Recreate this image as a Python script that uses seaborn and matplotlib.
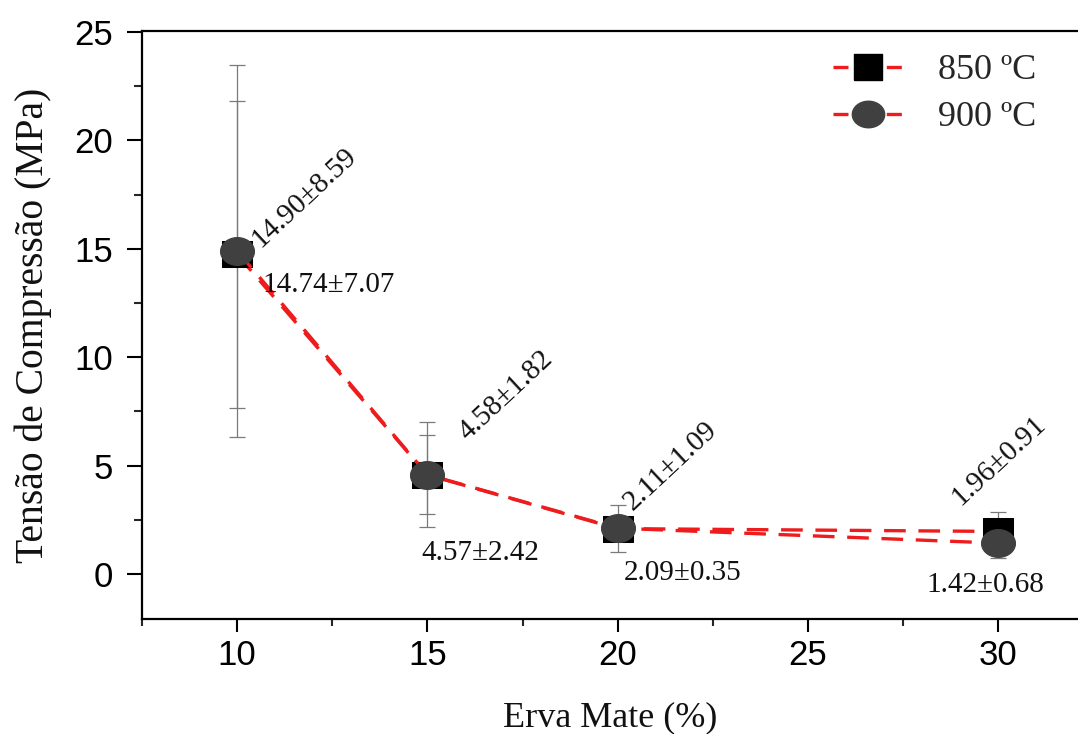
import numpy as np
import pandas as pd
import matplotlib
matplotlib.use("Agg")
import matplotlib.pyplot as plt
from matplotlib.lines import Line2D
from matplotlib.ticker import MultipleLocator
import seaborn as sns

# ---------------- data ----------------
erva = [10, 15, 20, 30]
t850 = [14.74, 4.57, 2.09, 1.96]
e850 = [7.07, 2.42, 0.35, 0.91]
t900 = [14.90, 4.58, 2.11, 1.42]
e900 = [8.59, 1.82, 1.09, 0.68]
series_names = ["850 ºC", "900 ºC"]
x_ticks = [10, 15, 20, 25, 30]
y_ticks = [0, 5, 10, 15, 20, 25]

df = pd.DataFrame({
    "erva": erva + erva,
    "tensao": t850 + t900,
    "erro": e850 + e900,
    "temp": [series_names[0]] * len(erva) + [series_names[1]] * len(erva),
})

# ---------------- style ----------------
sns.set_theme(style="ticks")
plt.rcParams["font.family"] = ["Liberation Sans", "DejaVu Sans"]
SERIF = ["Liberation Serif", "DejaVu Serif", "DejaVu Sans"]

fig = plt.figure(figsize=(10.78, 7.34), dpi=100)
ax = fig.add_axes([142 / 1078, 115 / 734, 936 / 1078, 588 / 734])

square = [(-0.5, -0.45), (0.5, -0.45), (0.5, 0.45), (-0.5, 0.45), (-0.5, -0.45)]
th = np.linspace(0, 2 * np.pi, 60)
ellipse = list(zip(0.5 * np.cos(th), 0.41 * np.sin(th)))

marker_map = {series_names[0]: square, series_names[1]: ellipse}
dash_map = {series_names[0]: (6.5, 3.8), series_names[1]: (6.5, 3.8)}
face = {series_names[0]: "#000000", series_names[1]: "#404040"}
msize = {series_names[0]: 21.5, series_names[1]: 24.5}
red = "#ee1c1c"

# error bars (beneath markers)
for name in series_names:
    sub = df[df["temp"] == name]
    ax.errorbar(sub["erva"], sub["tensao"], yerr=sub["erro"], fmt="none",
                ecolor="#7a7a7a", elinewidth=0.9, capsize=5.6, capthick=0.9,
                zorder=1.5)

sns.lineplot(data=df, x="erva", y="tensao", style="temp", markers=marker_map,
             dashes=dash_map, color=red, lw=2.4, legend=False, ax=ax,
             style_order=series_names, zorder=2)

for line, name in zip(ax.lines[-2:], series_names):
    line.set_markerfacecolor(face[name])
    line.set_markeredgecolor(face[name])
    line.set_markersize(msize[name])

# ---------------- annotations ----------------
# (series index, point index, dx pt, dy pt, rotation, ha, va)
label_layout = [
    (1, 0, 20, -1, 43, "left", "bottom"),
    (1, 1, 32, 21, 43, "left", "bottom"),
    (1, 2, 14, 9, 43, "left", "bottom"),
    (0, 3, -24, 15, 43, "left", "bottom"),
    (0, 0, 18, -22, 0, "left", "center"),
    (0, 1, 38, -56, 0, "center", "center"),
    (0, 2, 47, -32, 0, "center", "center"),
    (1, 3, -9, -30, 0, "center", "center"),
]
vals = [t850, t900]
errs = [e850, e900]
for s, i, dx, dy, rot, ha, va in label_layout:
    txt = f"{vals[s][i]:.2f}±{errs[s][i]:.2f}"
    ax.annotate(txt, xy=(erva[i], vals[s][i]), xytext=(dx, dy),
                textcoords="offset points", rotation=rot,
                rotation_mode="anchor", ha=ha, va=va,
                fontsize=21, family=SERIF, color="#111111", zorder=5)

# ---------------- axes ----------------
ax.set_xlim(7.5, 7.5 + 936 / 38.05)
ax.set_ylim(-2.08, 25.05)
ax.set_xticks(x_ticks)
ax.set_yticks(y_ticks)
ax.xaxis.set_minor_locator(MultipleLocator(2.5))
ax.yaxis.set_minor_locator(MultipleLocator(2.5))

ax.tick_params(axis="both", which="major", direction="out", width=1.5,
               colors="black", labelsize=25)
ax.tick_params(axis="x", which="major", length=9.5, pad=5)
ax.tick_params(axis="y", which="major", length=11, pad=10)
ax.tick_params(axis="x", which="minor", length=5, width=1.5)
ax.tick_params(axis="y", which="minor", length=6, width=1.5)
ax.tick_params(top=False, right=False, which="both")

for side in ["left", "bottom", "top"]:
    ax.spines[side].set_visible(True)
    ax.spines[side].set_linewidth(1.6)
    ax.spines[side].set_color("black")
ax.spines["right"].set_visible(False)

ax.set_xlabel("Erva Mate (%)", fontsize=26, family=SERIF, labelpad=21,
              color="#111111")
ax.set_ylabel("Tensão de Compressão (MPa)", fontsize=28.5, family=SERIF,
              labelpad=16, color="#111111")

# ---------------- legend ----------------
handles = []
for name in series_names:
    handles.append(Line2D([], [], color=red, lw=2.4, dashes=(4.5, 3.5),
                          marker=marker_map[name], markersize=msize[name] * 0.95,
                          markerfacecolor=face[name], markeredgecolor=face[name]))
leg = ax.legend(handles, series_names, loc="upper left",
                bbox_to_anchor=(833 / 1078, 1 - 54 / 734),
                bbox_transform=fig.transFigure, frameon=False,
                prop={"family": SERIF, "size": 26}, handlelength=1.95,
                handletextpad=0.95, labelspacing=0.38, borderpad=0,
                borderaxespad=0)

fig.savefig("out.png", dpi=100)
